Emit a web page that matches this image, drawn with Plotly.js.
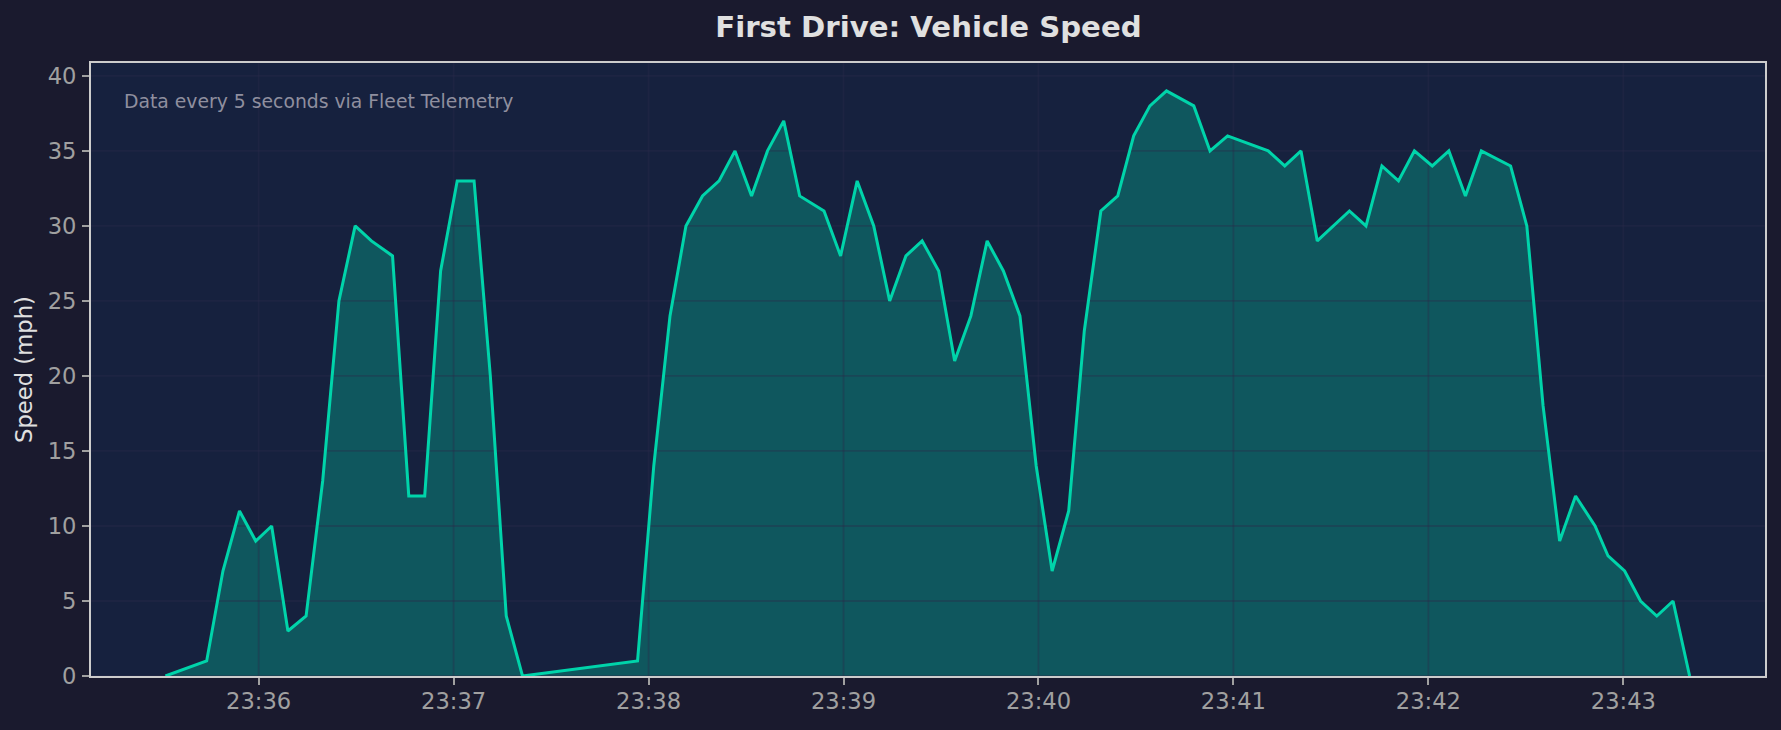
<!DOCTYPE html>
<html>
<head>
<meta charset="utf-8">
<script src="https://cdn.plot.ly/plotly-3.0.1.min.js"></script>
<style>html,body{margin:0;padding:0;background:#1a1a2e;overflow:hidden}#chart{width:1781px;height:730px}</style>
</head>
<body>
<div id="chart"></div>
<script>
// Seconds relative to 23:36:00
const secondsFrom2336 = [-28.7,-16,-11,-5.9,-0.9,4,9,14.6,19.7,24.7,29.7,34.7,41.2,46.2,51.1,56,61.1,66.3,71.3,76.2,81.2,
  116.6,121.6,126.6,131.5,136.6,141.7,146.6,151.7,156.6,161.6,166.5,174,179.1,184.2,189.3,194.2,199.2,204.2,209.3,214.2,219.2,224.2,229.2,234.3,239.3,244.2,249.3,254.1,259.2,264.4,269.3,274.3,279.4,
  287.8,292.8,298.2,310.7,315.8,320.8,325.8,335.7,340.8,345.7,350.8,355.7,361.2,366.3,371.4,376.3,385.3,390.3,395.3,400.4,405.3,411.3,415.3,420.4,425.3,430.3,435.3,440.4];
const speedMph = [0,1,7,11,9,10,3,4,13,25,30,29,28,12,12,27,33,33,20,4,0,
  1,14,24,30,32,33,35,32,35,37,32,31,28,33,30,25,28,29,27,21,24,29,27,24,14,7,11,23,31,32,36,38,39,
  38,35,36,35,34,35,29,31,30,34,33,35,34,35,32,35,34,30,18,9,12,10,8,7,5,4,5,0];
const tickSeconds = [0,60,120,180,240,300,360,420];
const tickLabels = ['23:36','23:37','23:38','23:39','23:40','23:41','23:42','23:43'];
const yTicks = [0,5,10,15,20,25,30,35,40];
const xRangeSeconds = [-51.6, 463.6];
const yRange = [0, 40.86];

const toDate = s => new Date(Date.UTC(2025,0,1,23,36,0) + s*1000).toISOString().slice(0,-1);
const times = secondsFrom2336.map(toDate);
const xRange = xRangeSeconds.map(toDate);

const GRID = 'rgba(42,42,74,0.38)';
const FONT = '"DejaVu Sans", sans-serif';

const gridV = {x:[], y:[]};
tickSeconds.forEach(s => { gridV.x.push(toDate(s),toDate(s),null); gridV.y.push(yRange[0],yRange[1],null); });
const gridH = {x:[], y:[]};
yTicks.forEach(v => { gridH.x.push(xRange[0],xRange[1],null); gridH.y.push(v,v,null); });

const traces = [
  {x:times, y:speedMph, type:'scatter', mode:'lines', line:{width:0,color:'rgba(0,212,170,0)'}, fill:'tozeroy', fillcolor:'rgba(0,212,170,0.3)', hoverinfo:'skip', showlegend:false},
  {x:gridV.x, y:gridV.y, type:'scatter', mode:'lines', line:{width:1.8,color:GRID}, hoverinfo:'skip', showlegend:false},
  {x:gridH.x, y:gridH.y, type:'scatter', mode:'lines', line:{width:1.8,color:GRID}, hoverinfo:'skip', showlegend:false},
  {x:times, y:speedMph, type:'scatter', mode:'lines', line:{width:3,color:'#00d4aa'}, name:'Speed', showlegend:false}
];

const layout = {
  width:1781, height:730,
  paper_bgcolor:'#1a1a2e', plot_bgcolor:'#16213e',
  margin:{l:91,r:15.5,t:63,b:53.5,pad:0},
  showlegend:false,
  font:{family:FONT},
  title:{text:'<b>First Drive: Vehicle Speed</b>', font:{family:FONT,size:29.2,color:'#e0e0e0'}, x:0.5213, xanchor:'center', y:0.963, yanchor:'middle'},
  xaxis:{type:'date', range:xRange, tickmode:'array', tickvals:tickSeconds.map(toDate), ticktext:tickLabels,
    showgrid:false, zeroline:false, showline:true, mirror:true, linecolor:'#cccccc', linewidth:2,
    ticks:'outside', ticklen:7, tickwidth:2, tickcolor:'#a0a0a0', tickfont:{family:FONT,size:22.6,color:'#a0a0a0'}, ticklabelstandoff:-3},
  yaxis:{range:yRange, tickmode:'array', tickvals:yTicks, showgrid:false, zeroline:false, showline:true, mirror:true, linecolor:'#cccccc', linewidth:2,
    ticks:'outside', ticklen:7, tickwidth:2, tickcolor:'#a0a0a0', tickfont:{family:FONT,size:22.6,color:'#a0a0a0'}, ticklabelstandoff:1,
    title:{text:'Speed (mph)', font:{family:FONT,size:22.7,color:'#e0e0e0'}, standoff:9}},
  annotations:[{text:'Data every 5 seconds via Fleet Telemetry', xref:'paper', yref:'paper', x:0.0191, y:0.9565, xanchor:'left', yanchor:'top', showarrow:false, borderpad:0,
    font:{family:FONT,size:18.8,color:'#8f8f9f'}}]
};
Plotly.newPlot('chart', traces, layout, {displayModeBar:false, responsive:false});
</script>
</body>
</html>
